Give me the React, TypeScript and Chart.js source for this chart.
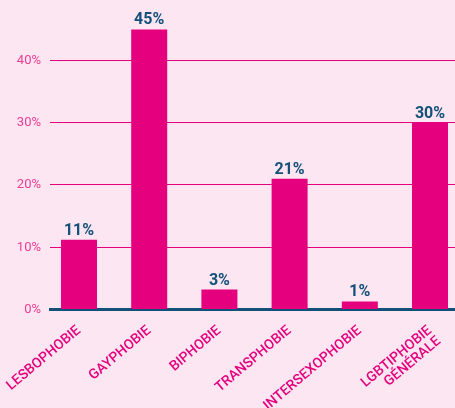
import React, { useEffect, useRef } from "react";
import { Chart, registerables } from "chart.js";

Chart.register(...registerables);

const categories: (string | string[])[] = [
  "LESBOPHOBIE",
  "GAYPHOBIE",
  "BIPHOBIE",
  "TRANSPHOBIE",
  "INTERSEXOPHOBIE",
  ["LGBTIPHOBIE", "GÉNÉRALE"],
];
const values = [11.2, 45, 3.2, 21, 1.3, 30];
const valueLabels = ["11%", "45%", "3%", "21%", "1%", "30%"];
const yTicks = [0, 10, 20, 30, 40];

const BG = "#fce6f1";
const PINK = "#e5007d";
const TICK_PINK = "#ea3d92";
const BLUE = "#135079";

const valueLabelPlugin = {
  id: "valueLabels",
  afterDatasetsDraw(chart: any) {
    const ctx = chart.ctx;
    const meta = chart.getDatasetMeta(0);
    ctx.save();
    ctx.font = "bold 16px Roboto";
    ctx.fillStyle = BLUE;
    ctx.textAlign = "center";
    ctx.textBaseline = "alphabetic";
    meta.data.forEach((bar: any, i: number) => {
      ctx.fillText(valueLabels[i], bar.x, bar.y - 5);
    });
    ctx.restore();
  },
};

const bgPlugin = {
  id: "bg",
  beforeDraw(chart: any) {
    const ctx = chart.ctx;
    ctx.save();
    ctx.fillStyle = BG;
    ctx.fillRect(0, 0, chart.width, chart.height);
    ctx.restore();
  },
};

export default function App() {
  const ref = useRef<HTMLCanvasElement>(null);
  useEffect(() => {
    if (!ref.current) return;
    const chart = new Chart(ref.current, {
      type: "bar",
      data: {
        datasets: [
          {
            data: values.map((v, i) => ({ x: i, y: v })),
            backgroundColor: PINK,
            borderWidth: 0,
            barPercentage: 0.513,
            categoryPercentage: 1,
          },
        ],
      },
      options: {
        animation: false,
        responsive: false,
        maintainAspectRatio: false,
        layout: { padding: { top: 10.7, left: 0, right: 0, bottom: 0 } },
        plugins: { legend: { display: false }, tooltip: { enabled: false } },
        scales: {
          x: {
            type: "linear",
            offset: false,
            min: -0.413,
            max: 5.356,
            grid: { display: false, drawTicks: false, offset: false },
            border: { display: true, color: BLUE, width: 3 },
            afterBuildTicks: (scale: any) => {
              scale.ticks = categories.map((_, i) => ({ value: i }));
            },
            afterFit: (scale: any) => {
              scale.height = 98.5;
              scale.paddingLeft = 0;
              scale.paddingRight = 0;
            },
            ticks: {
              autoSkip: false,
              minRotation: 40,
              maxRotation: 40,
              padding: 14,
              color: PINK,
              font: { family: "Roboto", size: 14, weight: "500", lineHeight: 1.0 },
              callback: (v: any) => categories[Math.round(Number(v))] as any,
            },
          },
          y: {
            min: 0,
            max: 48,
            afterBuildTicks: (scale: any) => {
              scale.ticks = yTicks.map((v) => ({ value: v }));
            },
            afterFit: (scale: any) => {
              scale.width = 50;
              scale.paddingTop = 0;
              scale.paddingBottom = 0;
            },
            grid: { color: PINK, lineWidth: 1, drawTicks: false },
            border: { display: false },
            ticks: {
              padding: 9,
              color: TICK_PINK,
              font: { family: "Roboto", size: 13 },
              callback: (v: any) => v + "%",
            },
          },
        },
      },
      plugins: [bgPlugin, valueLabelPlugin],
    } as any);
    return () => chart.destroy();
  }, []);
  return (
    <div style={{ position: "fixed", left: 0, top: 0, width: 455, height: 408, background: BG }}>
      <canvas ref={ref} width={455} height={408} style={{ width: 455, height: 408, display: "block" }} />
    </div>
  );
}
